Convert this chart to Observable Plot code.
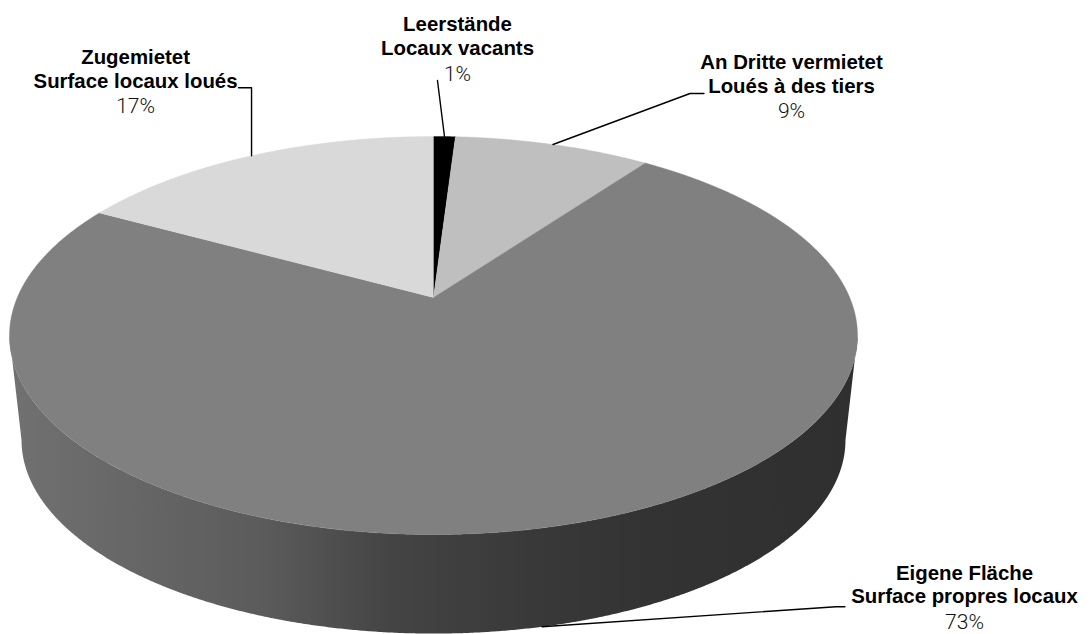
<!DOCTYPE html>
<html><head><meta charset="utf-8">
<script src="https://cdn.jsdelivr.net/npm/d3@7"></script>
<script src="https://cdn.jsdelivr.net/npm/@observablehq/plot@0.6"></script>
<style>html,body{margin:0;padding:0;background:#fff} #chart svg{display:block}</style>
</head><body><div id="chart"></div>
<script>
// ---- data ----
const labelsDe = ["Leerstände", "An Dritte vermietet", "Eigene Fläche", "Zugemietet"];
const labelsFr = ["Locaux vacants", "Loués à des tiers", "Surface propres locaux", "Surface locaux loués"];
const shares = [1, 9, 73, 17];
const pctLabels = ["1%", "9%", "73%", "17%"];

// ---- styles / layout ----
const sliceColors = ["#000000", "#bfbfbf", "#808080", "#d9d9d9"];
const W = 1091, H = 634;
const pie = {cx: 433, cy: 297, a: 416.2, b: 191.8, k: 0.191, vx: 433, vy: 4020, s: 0.9716};
const labelLayout = [
  {anchor: "top",    elbow: [-7, -56],  tail: 0,   text: [13, -111.6]},
  {anchor: "top",    elbow: [137, -51], tail: 14,  text: [238.5, -81.8]},
  {anchor: "bottom", elbow: [294, -20], tail: 9,   text: [422.6, -53.5]},
  {anchor: "top",    elbow: [0, -68],   tail: -13, text: [-116, -98]}
];
const gapName = 23.5, gapPct = 49;
const shadeStops = [[0, 0.88], [0.3, 0.71], [0.45, 0.53], [0.6, 0.45], [0.75, 0.40], [1, 0.37]];

// perspective projection of the pie disc
function topPt(phi) {
  const u = Math.sin(phi), v = -Math.cos(phi), d = 1 - pie.k * v;
  return [pie.cx + pie.a * u / d, pie.cy + pie.b * v / d];
}
function botPt(phi) {
  const [x, y] = topPt(phi);
  return [pie.vx + pie.s * (x - pie.vx), pie.vy + pie.s * (y - pie.vy)];
}

const total = d3.sum(shares);
let acc = 0;
const slices = shares.map((v, i) => {
  const a0 = acc / total * 2 * Math.PI; acc += v;
  const a1 = acc / total * 2 * Math.PI;
  return {i, a0, a1, mid: (a0 + a1) / 2};
});

const step = Math.PI / 720;
function arc(f, a0, a1) {
  const n = Math.max(2, Math.ceil(Math.abs(a1 - a0) / step)), out = [];
  for (let j = 0; j <= n; j++) out.push(f(a0 + (a1 - a0) * j / n));
  return out;
}

// top faces
const topPts = [];
slices.forEach(s => {
  const name = labelsDe[s.i], color = sliceColors[s.i];
  topPts.push({name, color, x: pie.cx, y: pie.cy});
  arc(topPt, s.a0, s.a1).forEach(([x, y]) => topPts.push({name, color, x, y}));
});

// visible front side
const phiR = Math.acos(-pie.k), phiL = 2 * Math.PI - phiR;
const sideMarks = [];
slices.forEach(s => {
  const a0 = Math.max(s.a0, phiR), a1 = Math.min(s.a1, phiL);
  if (a1 <= a0) return;
  const pts = [...arc(topPt, a0, a1), ...arc(botPt, a1, a0)].map(([x, y]) => ({x, y}));
  sideMarks.push(Plot.line(pts, {x: "x", y: "y", fill: `url(#side-${s.i})`, stroke: "none", curve: "linear"}));
});

// leader lines and labels
const leaderPts = [], textRows = [];
slices.forEach(s => {
  const L = labelLayout[s.i];
  const [ax, ay] = (L.anchor === "top" ? topPt : botPt)(s.mid);
  const ex = ax + L.elbow[0], ey = ay + L.elbow[1];
  const name = labelsDe[s.i];
  leaderPts.push({name, x: ax, y: ay}, {name, x: ex, y: ey});
  if (L.tail) leaderPts.push({name, x: ex + L.tail, y: ey});
  const tx = ax + L.text[0], ty = ay + L.text[1];
  textRows.push({x: tx, y: ty, t: labelsDe[s.i], bold: true});
  textRows.push({x: tx, y: ty + gapName, t: labelsFr[s.i], bold: true});
  textRows.push({x: tx, y: ty + gapPct, t: pctLabels[s.i], bold: false});
});

const svg = Plot.plot({
  width: W, height: H,
  margin: 0,
  x: {domain: [0, W], range: [0, W], axis: null},
  y: {domain: [0, H], range: [0, H], axis: null},
  color: {type: "identity"},
  style: {background: "#fff", fontFamily: "'Liberation Sans', Arial, Helvetica, sans-serif"},
  marks: [
    ...sideMarks,
    Plot.line(topPts, {x: "x", y: "y", z: "name", fill: "color", stroke: "color", strokeWidth: 0.4, curve: "linear"}),
    Plot.line(leaderPts, {x: "x", y: "y", z: "name", stroke: "#000", strokeWidth: 1.4, curve: "linear"}),
    Plot.text(textRows.filter(d => d.bold), {x: "x", y: "y", text: "t", fontSize: 20.4, fontWeight: "bold", fill: "#000", textAnchor: "middle"}),
    Plot.text(textRows.filter(d => !d.bold), {x: "x", y: "y", text: "t", fontSize: 21, fontWeight: 300, fontFamily: "Roboto, 'Liberation Sans', sans-serif", fill: "#111", textAnchor: "middle"})
  ]
});

// gradients for the side shading
const xs = svg.scale("x");
const defs = d3.select(svg).insert("defs", ":first-child");
slices.forEach(s => {
  const base = d3.rgb(sliceColors[s.i]);
  const g = defs.append("linearGradient").attr("id", `side-${s.i}`)
    .attr("gradientUnits", "userSpaceOnUse")
    .attr("x1", xs.apply(topPt(phiL)[0])).attr("x2", xs.apply(topPt(phiR)[0]))
    .attr("y1", 0).attr("y2", 0);
  shadeStops.forEach(([o, f]) => g.append("stop").attr("offset", o)
    .attr("stop-color", d3.rgb(base.r * f, base.g * f, base.b * f).formatHex()));
});

document.getElementById("chart").appendChild(svg);
</script>
</body></html>
